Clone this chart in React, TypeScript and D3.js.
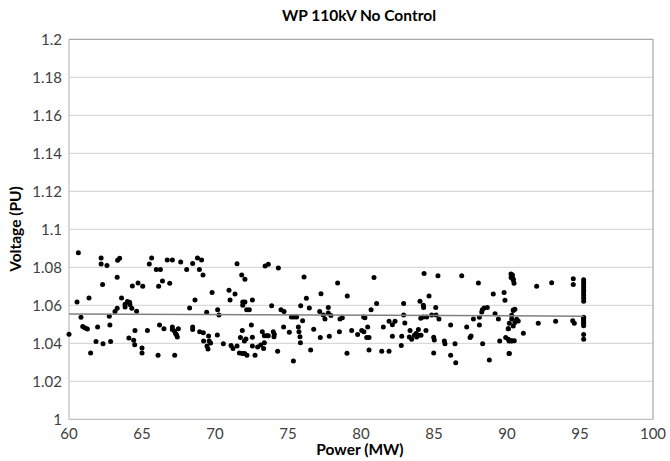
import React from "react";
import * as d3 from "d3";

const powerMW: number[] = [
  60.0, 60.64, 60.55, 60.82, 60.94, 61.1, 61.26, 61.37, 61.48, 61.85, 61.96, 62.2, 62.2, 62.3, 62.33, 62.6, 62.76, 62.8, 62.85,
  63.15, 63.3, 63.3, 63.33, 63.47, 63.6, 63.84, 63.84, 64.0, 64.15, 64.17, 64.3, 64.1, 64.34, 64.43, 64.5, 64.52, 64.63, 64.73,
  65.0, 65.0, 65.05, 65.37, 65.5, 65.66, 65.98, 66.1, 66.14, 66.2, 66.26, 66.4, 66.5, 66.73, 66.9, 67.08,
  67.08, 67.08, 67.22, 67.3, 67.37, 67.49, 67.42, 67.24, 67.65, 68.06, 68.26, 68.47, 68.63, 68.47, 68.47, 68.8, 68.93, 69.08,
  68.95, 69.18, 69.2, 69.22, 69.43, 69.52, 69.45, 69.56, 69.8, 69.7, 69.6,
  70.16, 70.18, 70.27, 70.57, 70.96, 71.03, 71.1, 71.23, 71.37, 71.51, 71.51, 71.67, 71.74, 71.87, 71.83, 72.05, 71.9, 72.05,
  71.9, 72.01, 72.12, 71.87, 72.03, 72.19, 72.17, 72.35, 72.49, 72.56, 72.56, 72.56, 72.74, 72.92, 73.13, 73.24, 73.38, 73.54,
  73.65, 73.38, 73.33, 73.43, 73.65, 73.88, 73.99, 74.06, 74.04, 74.29, 74.34, 74.52, 74.73, 74.7, 75.09, 75.23, 75.41, 75.59,
  75.37, 75.71, 75.75, 75.82, 75.87, 75.85, 76.0, 76.1, 76.26, 76.46, 76.55, 76.76, 77.17, 77.21, 77.26, 77.42, 77.53, 77.76,
  77.76, 77.94, 77.83, 78.4, 78.52, 78.56, 78.72, 79.04, 79.06, 79.36, 79.77, 80.05, 80.18, 80.2,
  80.46, 80.39, 80.55, 80.55, 80.27, 80.69, 80.89, 81.07, 81.42, 81.53, 81.92, 81.92, 82.15, 82.15, 82.33, 82.76, 82.79, 82.92,
  82.92, 83.0, 83.31, 83.36, 83.47, 83.65, 83.77, 83.81, 83.93, 83.93, 84.11, 84.04, 84.09, 84.27, 84.5, 84.27, 84.29, 84.32,
  84.45, 84.66, 84.84, 84.98, 85.02, 84.98, 85.12, 85.14, 85.27, 85.34, 85.71, 85.75, 86.14, 86.14, 86.44, 86.49, 86.9, 87.24,
  87.47, 87.54, 87.7, 88.04, 88.11, 88.11, 88.27, 88.31, 88.43, 88.33, 88.65, 88.79, 89.06, 89.18, 89.41, 89.5, 89.8, 89.86,
  89.91, 90.09, 90.16, 90.14, 90.32, 90.14, 90.28, 90.37, 90.43, 90.32, 90.43,
  90.27, 90.36, 90.43, 90.48, 90.43, 90.54, 90.32, 90.66, 90.77, 90.54, 90.43, 90.09, 90.09, 90.32, 90.5, 90.16, 91.12, 92.03,
  92.14, 93.06, 93.33, 94.54, 94.54, 94.5, 94.61,
  95.25, 95.25, 95.25, 95.25, 95.25, 95.25, 95.25, 95.25, 95.25, 95.25, 95.25, 95.25, 95.25, 95.25, 95.25, 95.25, 95.25,
];

const voltagePU: number[] = [
  1.0447, 1.0877, 1.0618, 1.0537, 1.0488, 1.048, 1.0475, 1.0639, 1.0349, 1.041, 1.0486, 1.0849, 1.0818, 1.071, 1.0398, 1.0809, 1.0542, 1.0496, 1.041,
  1.0567, 1.0585, 1.0747, 1.0837, 1.0847, 1.0639, 1.0605, 1.0591, 1.062, 1.0616, 1.0604, 1.0584, 1.0428, 1.0702, 1.0416, 1.0393, 1.0468, 1.0569, 1.0718,
  1.0375, 1.0349, 1.07, 1.0468, 1.0818, 1.0849, 1.0789, 1.0337, 1.07, 1.0496, 1.0789, 1.0728, 1.0477, 1.0839, 1.0716, 1.0839,
  1.0486, 1.0472, 1.0465, 1.0451, 1.0444, 1.0477, 1.0433, 1.0337, 1.0828, 1.0788, 1.0586, 1.082, 1.0628, 1.0486, 1.0472, 1.0849, 1.0788, 1.0839,
  1.0461, 1.076, 1.0456, 1.0412, 1.0563, 1.037, 1.0386, 1.0439, 1.0668, 1.0402, 1.0412,
  1.0444, 1.0577, 1.0549, 1.0398, 1.0679, 1.0628, 1.0388, 1.0372, 1.066, 1.0819, 1.0386, 1.0349, 1.043, 1.0468, 1.076, 1.0737, 1.0618, 1.0618,
  1.06, 1.0412, 1.0423, 1.0346, 1.0346, 1.0337, 1.0577, 1.0577, 1.0496, 1.0628, 1.0432, 1.0386, 1.0337, 1.038, 1.0391, 1.0461, 1.044, 1.044,
  1.044, 1.0403, 1.0372, 1.0807, 1.0816, 1.0598, 1.0461, 1.0447, 1.0435, 1.0358, 1.0796, 1.0577, 1.0567, 1.0486, 1.0458, 1.0538, 1.0538, 1.0538,
  1.0307, 1.0486, 1.0461, 1.0435, 1.0598, 1.0403, 1.0519, 1.0749, 1.0637, 1.0586, 1.0365, 1.0474, 1.0568, 1.043, 1.0661, 1.0549, 1.0528, 1.0588,
  1.056, 1.0546, 1.0437, 1.0718, 1.0461, 1.0528, 1.0535, 1.0347, 1.0649, 1.0468, 1.0446, 1.0468, 1.0538, 1.0461,
  1.0486, 1.043, 1.043, 1.0365, 1.0535, 1.0577, 1.0746, 1.0609, 1.0358, 1.0486, 1.0358, 1.0516, 1.0437, 1.0498, 1.0516, 1.0389, 1.0437, 1.0609,
  1.0549, 1.0507, 1.0433, 1.0468, 1.0421, 1.0442, 1.0451, 1.0433, 1.0472, 1.0442, 1.0442, 1.0621, 1.0532, 1.0539, 1.0539, 1.06, 1.0588, 1.0767,
  1.0468, 1.0649, 1.0549, 1.0432, 1.0418, 1.0349, 1.0588, 1.0549, 1.0756, 1.0528, 1.0412, 1.0398, 1.0496, 1.0337, 1.0398, 1.0298, 1.0756, 1.0486,
  1.043, 1.0439, 1.0528, 1.0718, 1.0537, 1.0496, 1.0565, 1.0577, 1.0586, 1.0398, 1.0588, 1.0312, 1.066, 1.0556, 1.0528, 1.0412, 1.0667, 1.0626,
  1.043, 1.0477, 1.0505, 1.0412, 1.0412, 1.0346, 1.0746, 1.076, 1.0737, 1.0528, 1.0575,
  1.0765, 1.0751, 1.0733, 1.0716, 1.0572, 1.0579, 1.0547, 1.0526, 1.0518, 1.0509, 1.0491, 1.0477, 1.0421, 1.0414, 1.0414, 1.0346, 1.0453, 1.07,
  1.0505, 1.0719, 1.0516, 1.074, 1.0709, 1.0519, 1.0505,
  1.0735, 1.0721, 1.0707, 1.0693, 1.0679, 1.0665, 1.0651, 1.0637, 1.0621, 1.0537, 1.0528, 1.0519, 1.051, 1.0501, 1.0493, 1.0446, 1.0421,
];

const trendX: number[] = [60, 95.25];
const trendY: number[] = [1.0554, 1.0543];

const xTicks: number[] = [60, 65, 70, 75, 80, 85, 90, 95, 100];
const yTicks: number[] = [1, 1.02, 1.04, 1.06, 1.08, 1.1, 1.12, 1.14, 1.16, 1.18, 1.2];

const titleText = "WP 110kV No Control";
const xLabel = "Power (MW)";
const yLabel = "Voltage (PU)";

const W = 670;
const H = 461;
const M = { left: 69, right: 653, top: 39.3, bottom: 419.3 };
const FONT = "Lato, 'Open Sans', sans-serif";

export default function App() {
  const x = d3.scaleLinear().domain([60, 100]).range([M.left, M.right]);
  const y = d3.scaleLinear().domain([1, 1.2]).range([M.bottom, M.top]);
  const line = d3
    .line<number>()
    .x((d, i) => x(trendX[i]))
    .y((d) => y(d));
  const fmtY = (v: number) => String(+v.toFixed(2));

  return (
    <svg
      width={W}
      height={H}
      style={{ position: "absolute", left: 0, top: 0, background: "#fff" }}
      fontFamily={FONT}
    >
      <rect x={0} y={0} width={W} height={H} fill="#fff" />
      {yTicks.map((t) => (
        <line
          key={"g" + t}
          x1={M.left}
          x2={M.right}
          y1={y(t)}
          y2={y(t)}
          stroke={t === 1.2 ? "#a6a6a6" : t === 1 ? "#bfbfbf" : "#d9d9d9"}
          strokeWidth={1.2}
        />
      ))}
      <line x1={M.left} x2={M.left} y1={M.top} y2={M.bottom} stroke="#bfbfbf" strokeWidth={1.2} />
      <line x1={M.right} x2={M.right} y1={M.top} y2={M.bottom} stroke="#a6a6a6" strokeWidth={1.2} />
      {yTicks.map((t) => (
        <text
          key={"yl" + t}
          x={62}
          y={y(t)}
          textAnchor="end"
          dominantBaseline="central"
          fontSize={15}
          fill="#404040"
        >
          {fmtY(t)}
        </text>
      ))}
      {xTicks.map((t) => (
        <text key={"xl" + t} x={x(t)} y={438.5} textAnchor="middle" fontSize={15} fill="#404040">
          {t}
        </text>
      ))}
      {powerMW.map((p, i) => (
        <circle key={"p" + i} cx={x(p)} cy={y(voltagePU[i])} r={2.5} fill="#000" />
      ))}
      <path d={line(trendY) || ""} fill="none" stroke="#808080" strokeWidth={1.5} />
      <text x={359} y={21} textAnchor="middle" fontSize={15.5} fontWeight="bold" fill="#000">
        {titleText}
      </text>
      <text x={360} y={455} textAnchor="middle" fontSize={15.5} fontWeight="bold" fill="#000">
        {xLabel}
      </text>
      <text
        transform={`translate(21,229) rotate(-90)`}
        textAnchor="middle"
        fontSize={15.5}
        fontWeight="bold"
        fill="#000"
      >
        {yLabel}
      </text>
    </svg>
  );
}
